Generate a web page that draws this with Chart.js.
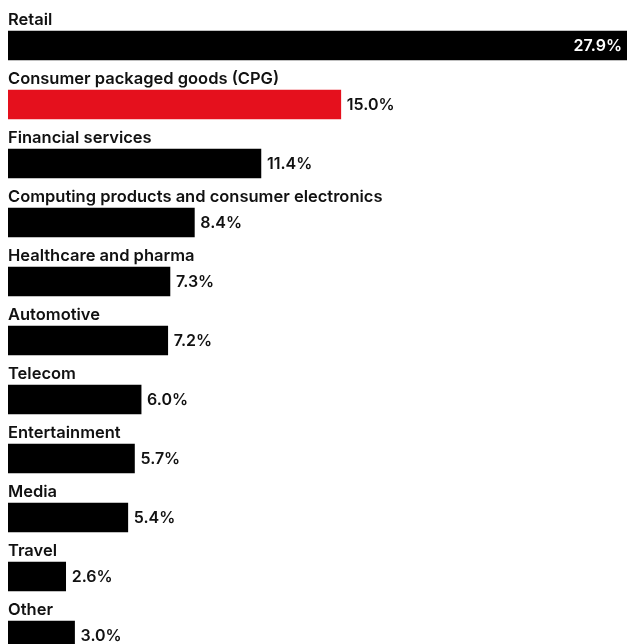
<!DOCTYPE html>
<html>
<head>
<meta charset="utf-8">
<script src="https://cdn.jsdelivr.net/npm/chart.js@4"></script>
<style>
  html, body { margin: 0; padding: 0; background: #fff; overflow: hidden; }
  #wrap { width: 628px; height: 680px; }
</style>
</head>
<body>
<div id="wrap"><canvas id="chart" width="628" height="680"></canvas></div>
<script>
const categories = [
  'Retail',
  'Consumer packaged goods (CPG)',
  'Financial services',
  'Computing products and consumer electronics',
  'Healthcare and pharma',
  'Automotive',
  'Telecom',
  'Entertainment',
  'Media',
  'Travel',
  'Other'
];
const shares = [27.9, 15.0, 11.4, 8.4, 7.3, 7.2, 6.0, 5.7, 5.4, 2.6, 3.0];
const highlighted = 'Consumer packaged goods (CPG)';

const FONT = 'Inter, "Noto Sans", sans-serif';

// category name above each bar, value to the right (or inside if no room)
const barLabels = {
  id: 'barLabels',
  afterDatasetsDraw(chart) {
    const ctx = chart.ctx;
    const meta = chart.getDatasetMeta(0);
    const area = chart.chartArea;
    ctx.save();
    meta.data.forEach((bar, i) => {
      const top = bar.y - bar.height / 2;
      ctx.fillStyle = '#111';
      ctx.font = '600 16.5px ' + FONT;
      ctx.textAlign = 'left';
      ctx.textBaseline = 'alphabetic';
      ctx.fillText(categories[i], area.left, top - 6);

      const txt = shares[i].toFixed(1) + '%';
      ctx.font = '600 16px ' + FONT;
      ctx.textBaseline = 'middle';
      const w = ctx.measureText(txt).width;
      if (bar.x + 6 + w > chart.width) {
        ctx.fillStyle = '#fff';
        ctx.textAlign = 'right';
        ctx.fillText(txt, bar.x - 5, bar.y + 1);
      } else {
        ctx.fillStyle = '#111';
        ctx.textAlign = 'left';
        ctx.fillText(txt, bar.x + 6, bar.y + 1);
      }
    });
    ctx.restore();
  }
};

new Chart(document.getElementById('chart'), {
  type: 'bar',
  data: {
    labels: categories,
    datasets: [{
      data: shares,
      backgroundColor: categories.map(c => c === highlighted ? '#e5101d' : '#000000'),
      borderWidth: 0,
      barThickness: 29
    }]
  },
  options: {
    indexAxis: 'y',
    responsive: false,
    animation: false,
    layout: { padding: { top: 16, left: 8, right: 1, bottom: 15 } },
    plugins: {
      legend: { display: false },
      tooltip: { enabled: false }
    },
    scales: {
      x: { display: false, min: 0, max: 27.9 },
      y: { display: false }
    }
  },
  plugins: [barLabels]
});
</script>
</body>
</html>
